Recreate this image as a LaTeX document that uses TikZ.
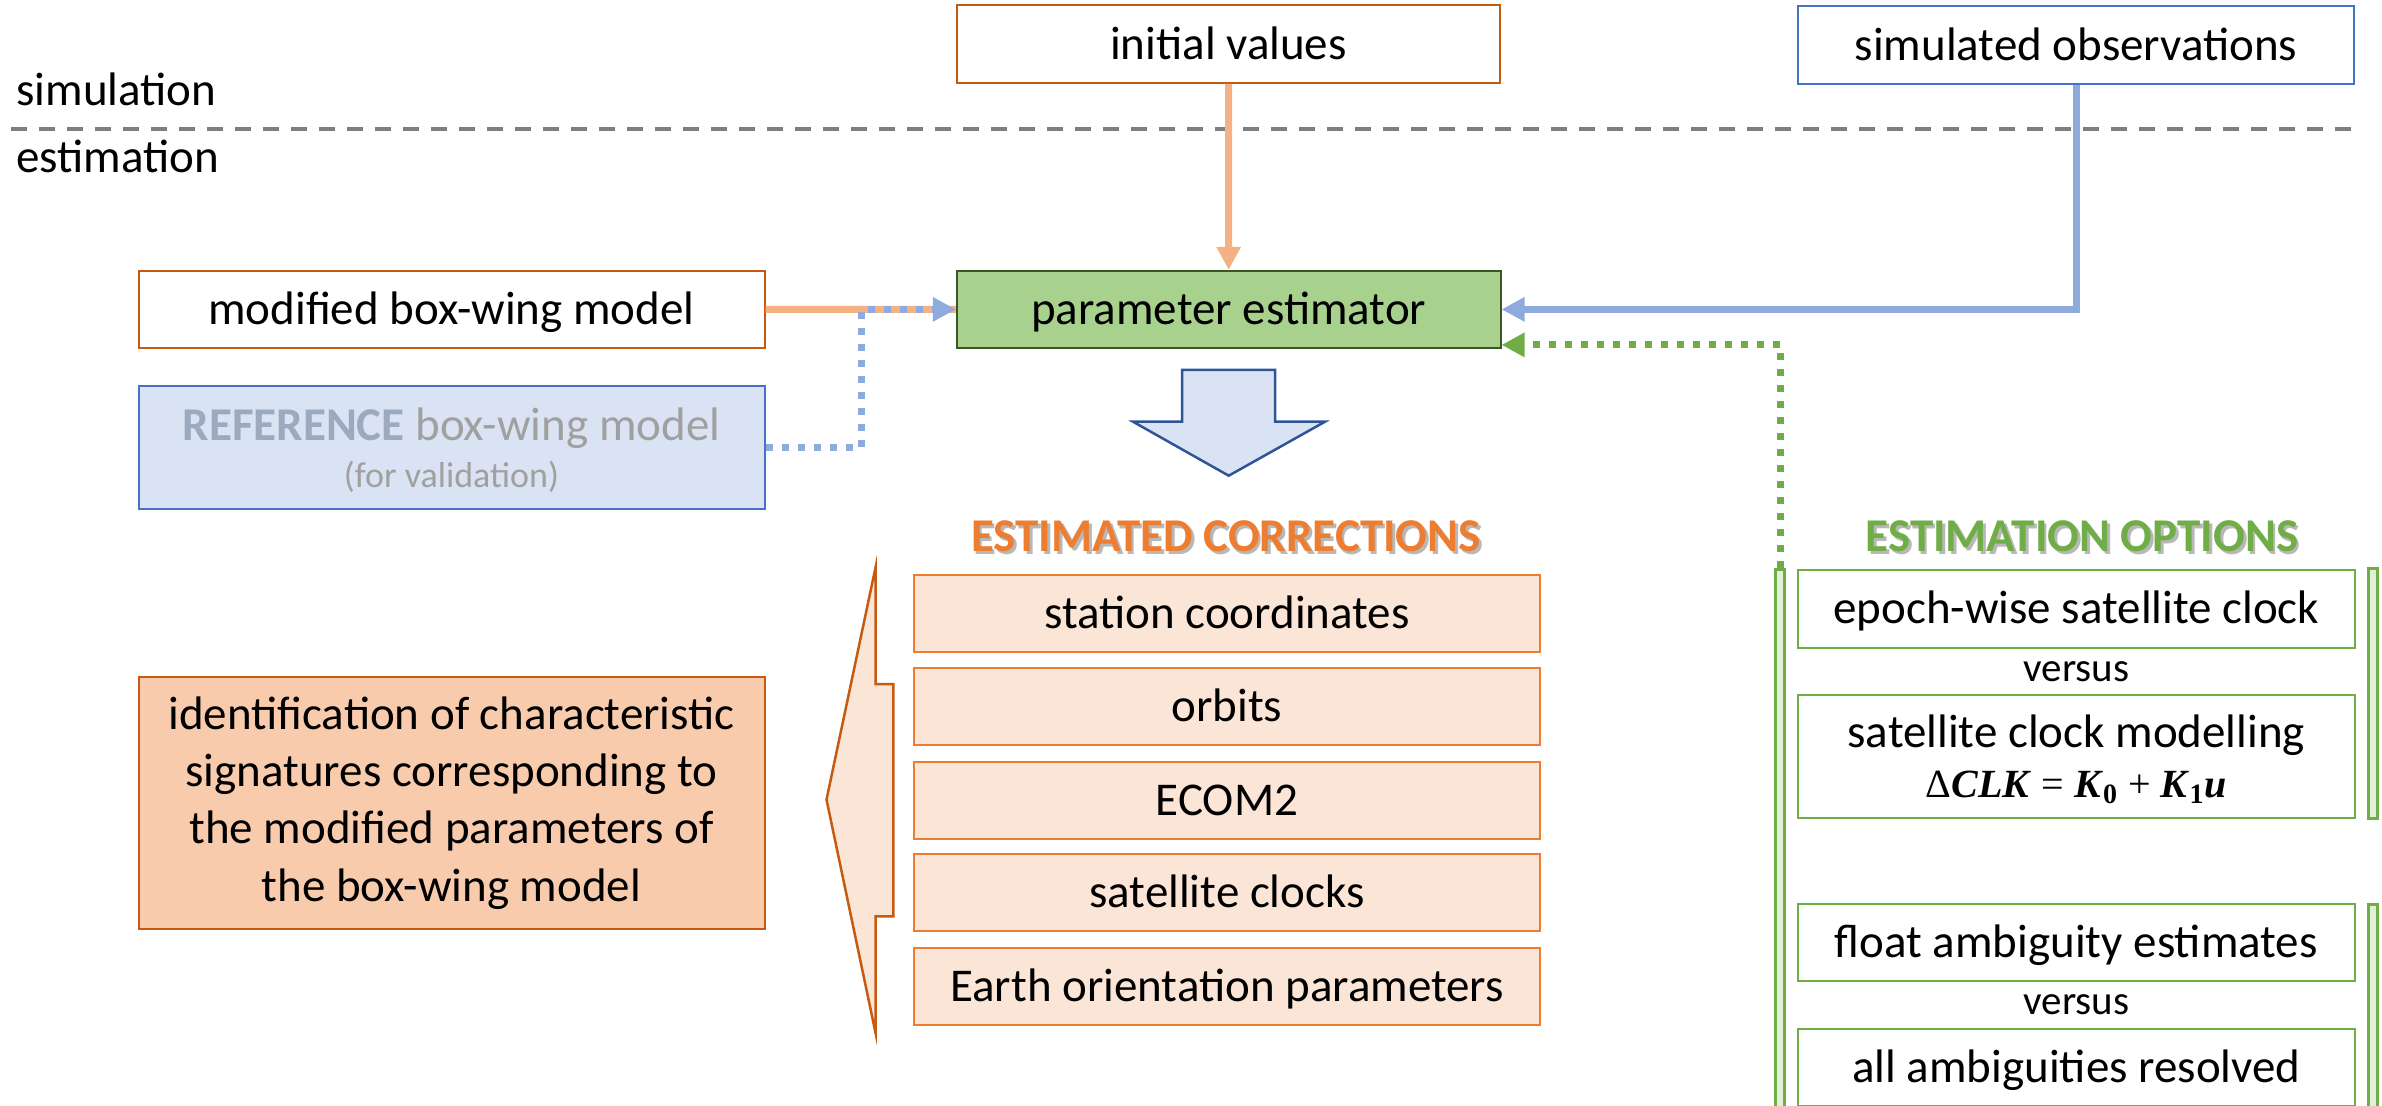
\documentclass[tikz,border=0pt]{standalone}
\usepackage{fontspec}
\setmainfont{Carlito}
\newfontfamily\lserif{Liberation Serif}
\usetikzlibrary{arrows.meta,calc}
\definecolor{orDark}{HTML}{C55A11}
\definecolor{orMid}{HTML}{ED7D31}
\definecolor{orLight}{HTML}{F4B183}
\definecolor{orFill}{HTML}{FBE5D6}
\definecolor{orFillB}{HTML}{F8CBAD}
\definecolor{blBorder}{HTML}{4472C4}
\definecolor{blLine}{HTML}{8FAADC}
\definecolor{blFill}{HTML}{DAE3F3}
\definecolor{blDark}{HTML}{2F5597}
\definecolor{grFill}{HTML}{A9D18E}
\definecolor{grDark}{HTML}{385723}
\definecolor{grMid}{HTML}{70AD47}
\definecolor{grLight}{HTML}{E2F0D9}
\definecolor{dashGray}{HTML}{7F7F7F}
\definecolor{refText}{HTML}{9CAAC0}
\definecolor{refGray}{HTML}{A0A0A0}
\newcommand{\mainsize}{\fontsize{23.5}{28.7}\selectfont}
\newcommand{\shadowtxt}[2]{\makebox[0pt][l]{\kern1.4pt\raisebox{-1.4pt}{\textcolor{black!28}{#2}}}\textcolor{#1}{#2}}
\newcommand{\bi}[1]{\textbf{\textit{#1}}}
\tikzset{
  onebox/.style={line width=1pt, inner sep=0pt, font=\mainsize, text height=15.1pt, text depth=0pt},
  multibox/.style={line width=1pt, inner sep=0pt, align=center, font=\mainsize},
  obox/.style={onebox, draw=orDark, fill=white, minimum width=313pt, minimum height=38.5pt},
  bbox/.style={onebox, draw=blBorder, fill=white, minimum width=278pt, minimum height=39pt},
  pbox/.style={onebox, draw=grDark, fill=grFill, minimum width=271.8pt, minimum height=38.5pt},
  cbox/.style={onebox, draw=orMid, fill=orFill, minimum width=313pt, minimum height=38.5pt},
  gbox/.style={onebox, draw=grMid, fill=white, minimum width=278.3pt, minimum height=38.8pt},
  gbar/.style={draw=grMid, fill=grLight, line width=1.5pt, inner sep=0pt, minimum width=4.5pt},
  plain/.style={inner sep=0pt, font=\mainsize},
  vs/.style={inner sep=0pt, font=\fontsize{20.5}{24}\selectfont, anchor=base},
  hdr/.style={inner sep=0pt, font=\bfseries\mainsize, anchor=base},
  tipT/.tip={Triangle[length=11.5pt,width=11.5pt]},
  oline/.style={orLight, line width=3.5pt},
  bline/.style={blLine, line width=3.5pt},
  bdot/.style={blLine, line width=3.5pt, dash pattern=on 3.5pt off 4.5pt},
  gdot/.style={grMid, line width=3.5pt, dash pattern=on 3.5pt off 4.5pt},
  sepline/.style={dashGray, line width=2pt, dash pattern=on 8pt off 6pt},
}
\begin{document}
\begin{tikzpicture}[x=0.5pt,y=-0.5pt]
\useasboundingbox (0,0) rectangle (2382,1106);
\clip (0,0) rectangle (2382,1106);

% separator
\coordinate (sepL) at (11,129.3);
\coordinate (sepR) at (2353,129.3);
\draw[sepline] (sepL) -- (sepR);
\node[plain, anchor=base west] (simlabel) at (16,106) {simulation};
\node[plain, anchor=base west] (estlabel) at (16,173) {estimation};

% top boxes
\node[obox, minimum width=271.5pt, minimum height=39pt] (initial) at (1228.5,44) {initial values};
\node[bbox] (simobs) at (2076,45) {simulated observations};

% middle
\node[obox] (modified) at (451.5,309.5) {modified box-wing model};
\node[pbox] (param) at (1228.7,309.4) {parameter estimator};
\node[onebox, draw=blBorder, fill=blFill, minimum width=313pt, minimum height=61.3pt,
      text height=40.2pt, text depth=0pt] (reference) at (451.5,447.3)
  {\begin{tabular}[b]{@{}c@{}}\textcolor{refText}{\textbf{REFERENCE}} \textcolor{refGray}{box-wing model}\\[-5pt]
   {\fontsize{18}{22}\selectfont\textcolor{refGray}{(for validation)}}\end{tabular}};

% block arrow down
\draw[blDark, line width=1.25pt, fill=blFill] (1182,370) -- (1275,370) -- (1275,421.7) -- (1325,421.7)
  -- (1228.7,475.7) -- (1133,421.7) -- (1182,421.7) -- cycle;

% connectors
\draw[oline, -tipT] (initial.south) -- (param.north);
\draw[bline, -tipT] (simobs.south) |- (param.east);
\draw[oline] (modified.east) -- (param.west);
\coordinate (bjoin) at (861,309.4);
\draw[bdot, -tipT] (reference.east) -| (bjoin) -- (param.west);

% estimated corrections
\node[hdr] (hcorr) at (1226,552) {\shadowtxt{orMid}{ESTIMATED CORRECTIONS}};
\node[cbox] (c1) at (1227,613.3) {station coordinates};
\node[cbox] (c2) at (1227,706.4) {orbits};
\node[cbox] (c3) at (1227,800) {ECOM2};
\node[cbox] (c4) at (1227,892.2) {satellite clocks};
\node[cbox] (c5) at (1227,986.5) {Earth orientation parameters};

% big left arrow
\draw[orDark, line width=1.25pt, fill=orFill] (826.5,799.6) -- (875.5,567.6) -- (875.5,684) -- (893.4,684)
  -- (893.4,916.3) -- (875.5,916.3) -- (875.5,1032.7) -- cycle;

\node[multibox, draw=orDark, fill=orFillB, minimum width=313pt, minimum height=126pt] (ident) at (451.5,803)
  {identification of characteristic\\signatures corresponding to\\the modified parameters of\\the box-wing model};

% estimation options
\node[hdr] (hopt) at (2082,552) {\shadowtxt{grMid}{ESTIMATION OPTIONS}};
\node[gbar, minimum height=275pt] (lbar) at (1780,845) {};
\node[gbar, minimum height=124.5pt] (rbar1) at (2373,693.5) {};
\node[gbar, minimum height=106pt] (rbar2) at (2373,1010) {};
\node[gbox] (e1) at (2076.3,608.9) {epoch-wise satellite clock};
\node[vs] (v1) at (2076.3,681.7) {versus};
\node[onebox, draw=grMid, fill=white, minimum width=278.3pt, minimum height=61.3pt,
      text height=41.2pt, text depth=0pt] (e2) at (2076.3,756.4)
  {\begin{tabular}[b]{@{}c@{}}satellite clock modelling\\[-3.7pt]
   {\lserif\fontsize{20}{24}\selectfont Δ\bi{CLK} = \bi{K}\textsubscript{\textbf{0}} + \bi{K}\textsubscript{\textbf{1}}\bi{u}}\end{tabular}};
\node[gbox] (f1) at (2076.3,942.5) {float ambiguity estimates};
\node[vs] (v2) at (2076.3,1014) {versus};
\node[gbox] (f2) at (2076.3,1067.5) {all ambiguities resolved};

\draw[gdot, -tipT] (lbar.north) |- ($(param.south east)+(0,-4)$);
\end{tikzpicture}
\end{document}
